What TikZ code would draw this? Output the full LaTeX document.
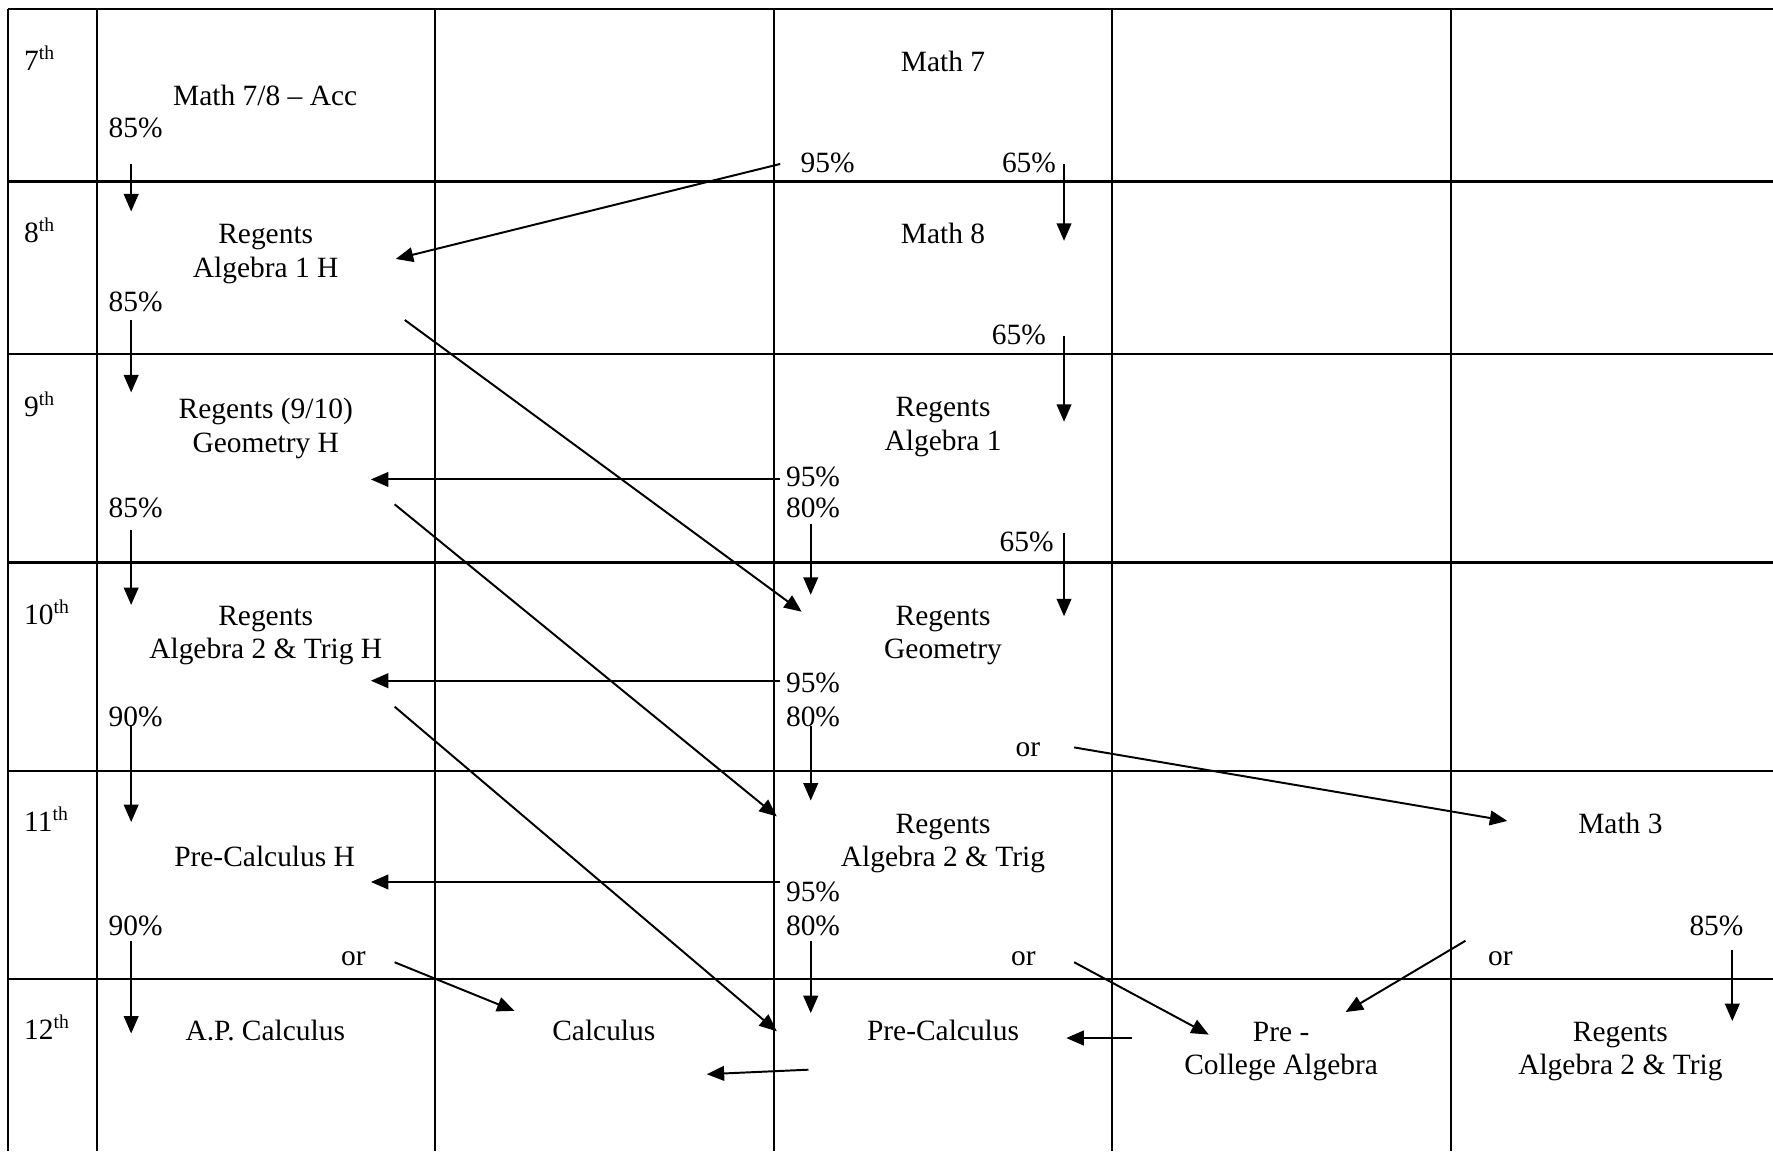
\documentclass[tikz,border=0pt,12pt]{standalone}
\usepackage{fontspec}
\setmainfont{Liberation Serif}
\usetikzlibrary{arrows.meta}

\begin{document}
\begin{tikzpicture}[x=0.162mm,y=-0.162mm,
		txt/.style={inner sep=0pt,align=center,font=\fontsize{12pt}{13.8pt}\selectfont},
		grade/.style={txt,anchor=base west},
		arr/.style={-{Triangle[length=2.5mm,width=2.1mm]},line width=0.8pt},
		rule/.style={line width=0.9pt}]
	\useasboundingbox (0,0) rectangle (1568,1018);
	\foreach \y in {8,160.5,313,497.5,681.5,865.5}
		\draw[rule] (7.4,\y) -- (1568,\y);
	\foreach \x in {7.4,85.6,384.8,684.6,983.2,1283}
		\draw[rule] (\x,8) -- (\x,1018);

	\node[grade] (g7) at (21,62) {7\textsuperscript{th}};
	\node[grade] (g8) at (21,214.6) {8\textsuperscript{th}};
	\node[grade] (g9) at (21,368.5) {9\textsuperscript{th}};
	\node[grade] (g10) at (21,552) {10\textsuperscript{th}};
	\node[grade] (g11) at (21,735.5) {11\textsuperscript{th}};
	\node[grade] (g12) at (21,919) {12\textsuperscript{th}};

	\node[txt] (acc) at (234.5,84) {Math 7/8 -- Acc};
	\node[txt] (alghon) at (235,225) {Regents\\Algebra 1 H};
	\node[txt] (geohon) at (235,379) {Regents (9/10)\\Geometry H};
	\node[txt] (trighon) at (235,562) {Regents\\Algebra 2 \& Trig H};
	\node[txt] (prechon) at (234,757.6) {Pre-Calculus H};
	\node[txt] (apcalc) at (234.6,911) {A.P. Calculus};
	\node[txt] (calc) at (534,911) {Calculus};
	\node[txt] (mathsev) at (834,54.5) {Math 7};
	\node[txt] (matheig) at (834,206) {Math 8};
	\node[txt] (algone) at (834,378) {Regents\\Algebra 1};
	\node[txt] (geo) at (834,562) {Regents\\Geometry};
	\node[txt] (trig) at (834,746) {Regents\\Algebra 2 \& Trig};
	\node[txt] (prec) at (834,911.5) {Pre-Calculus};
	\node[txt] (colalg) at (1133,930) {Pre -\\College Algebra};
	\node[txt] (maththr) at (1433,728) {Math 3};
	\node[txt] (trigb) at (1433,930) {Regents\\Algebra 2 \& Trig};

	\node[txt] (p1) at (120,113.4) {85\%};
	\node[txt] (p2) at (120,266.8) {85\%};
	\node[txt] (p3) at (120,449.5) {85\%};
	\node[txt] (p4) at (120,634) {90\%};
	\node[txt] (p5) at (120,818.7) {90\%};
	\node[txt] (p6) at (732,144.5) {95\%};
	\node[txt] (p7) at (910,144.5) {65\%};
	\node[txt] (p8) at (901,296) {65\%};
	\node[txt] (p9) at (719,421.6) {95\%};
	\node[txt] (p10) at (719,449.5) {80\%};
	\node[txt] (p11) at (908,479.6) {65\%};
	\node[txt] (p12) at (719,604) {95\%};
	\node[txt] (p13) at (719,634) {80\%};
	\node[txt] (p14) at (719,788.6) {95\%};
	\node[txt] (p15) at (719,818.7) {80\%};
	\node[txt] (p16) at (1518,818.7) {85\%};
	\node[txt] (or1) at (909,663) {or};
	\node[txt] (or2) at (312.5,848) {or};
	\node[txt] (or3) at (905,848) {or};
	\node[txt] (or4) at (1327,848) {or};

	\coordinate (d1s) at (116,145);  \coordinate (d1e) at (116,187);
	\coordinate (d2s) at (116,283);  \coordinate (d2e) at (116,347);
	\coordinate (d3s) at (116,469);  \coordinate (d3e) at (116,535);
	\coordinate (d4s) at (116,641);  \coordinate (d4e) at (116,727);
	\coordinate (d5s) at (116,832);  \coordinate (d5e) at (116,914);
	\coordinate (d6s) at (941,145);  \coordinate (d6e) at (941,213);
	\coordinate (d7s) at (941,297);  \coordinate (d7e) at (941,373);
	\coordinate (d8s) at (941,471);  \coordinate (d8e) at (941,545);
	\coordinate (d9s) at (717,463);  \coordinate (d9e) at (717,526);
	\coordinate (d10s) at (717,642); \coordinate (d10e) at (717,708);
	\coordinate (d11s) at (717,832); \coordinate (d11e) at (717,896);
	\coordinate (d12s) at (1532,840); \coordinate (d12e) at (1532,903);
	\foreach \i in {1,...,12}
		\draw[arr] (d\i s) -- (d\i e);

	\coordinate (l1s) at (690,424);  \coordinate (l1e) at (328,424);
	\coordinate (l2s) at (690,602);  \coordinate (l2e) at (328,602);
	\coordinate (l3s) at (690,780);  \coordinate (l3e) at (328,780);
	\coordinate (l4s) at (1001,918); \coordinate (l4e) at (943,918);
	\coordinate (l5s) at (715,946);  \coordinate (l5e) at (625,950);
	\foreach \i in {1,...,5}
		\draw[arr] (l\i s) -- (l\i e);

	\coordinate (x1s) at (690,145);  \coordinate (x1e) at (350,229);
	\coordinate (x2s) at (358,283);  \coordinate (x2e) at (709,541);
	\coordinate (x3s) at (349,446);  \coordinate (x3e) at (687,722);
	\coordinate (x4s) at (349,625);  \coordinate (x4e) at (687,912);
	\coordinate (x5s) at (349,851);  \coordinate (x5e) at (455,894);
	\coordinate (x6s) at (950,661);  \coordinate (x6e) at (1333,726);
	\coordinate (x7s) at (950,851);  \coordinate (x7e) at (1069,915);
	\coordinate (x8s) at (1296,832); \coordinate (x8e) at (1190,895);
	\foreach \i in {1,...,8}
		\draw[arr] (x\i s) -- (x\i e);
\end{tikzpicture}
\end{document}
